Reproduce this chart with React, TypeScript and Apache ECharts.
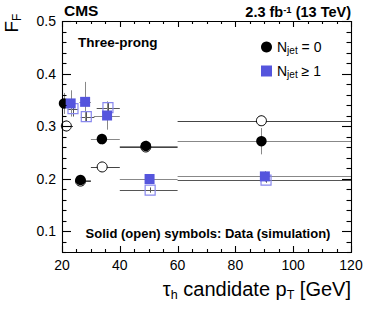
import React, { useEffect, useRef } from "react";
import * as echarts from "echarts";

// Axis ranges and ticks
const xRange = [20, 120];
const yRange = [0.06, 0.5];
const xMajorTicks = [20, 40, 60, 80, 100, 120];
const xMinorTicks = [25, 30, 35, 45, 50, 55, 65, 70, 75, 85, 90, 95, 105, 110, 115];
const yMajorTicks = [0.1, 0.2, 0.3, 0.4, 0.5];
const yMinorTicks = [0.06, 0.08, 0.12, 0.14, 0.16, 0.18, 0.22, 0.24, 0.26, 0.28, 0.32, 0.34, 0.36, 0.38, 0.42, 0.44, 0.46, 0.48];

// N_jet = 0, data (solid circles)
const d0X = [20.7, 26.4, 33.8, 49, 89];
const d0Y = [0.343, 0.197, 0.275, 0.262, 0.271];
const d0XLo = [20, 24.5, 30, 40, 60];
const d0XHi = [22.5, 30, 40, 60, 120];
const d0YErr = [0.02, 0.005, 0.01, 0.01, 0.025];

// N_jet = 0, simulation (open circles)
const s0X = [21.5, 26.4, 33.9, 49, 89];
const s0Y = [0.3, 0.195, 0.222, 0.26, 0.31];
const s0XLo = [20, 24.5, 30, 40, 60];
const s0XHi = [23.8, 30, 40, 60, 120];
const s0YErr = [0.01, 0.004, 0.007, 0.005, 0.01];

// N_jet >= 1, data (solid squares)
const d1X = [23, 28, 35.6, 50.3, 90.2];
const d1Y = [0.343, 0.346, 0.32, 0.199, 0.204];
const d1XLo = [21.4, 26, 31, 40, 60];
const d1XHi = [24.8, 30, 40, 60, 120];
const d1YErr = [0.025, 0.038, 0.027, 0.008, 0.01];

// N_jet >= 1, simulation (open squares)
const s1X = [23.8, 28.4, 35.9, 50.5, 90.6];
const s1Y = [0.333, 0.318, 0.335, 0.178, 0.197];
const s1XLo = [22, 26.5, 32, 40, 60];
const s1XHi = [25.5, 31.2, 40, 60, 120];
const s1YErr = [0.015, 0.01, 0.01, 0.005, 0.005];

const FONT = "Liberation Sans";
const BLUE = "#5555dd";
const LIGHTBLUE = "#8888ee";
const FRAME = "#000000";

function points(xs: number[], ys: number[]) {
  return xs.map((x, i) => [x, ys[i]]);
}
function errRows(xs: number[], ys: number[], lo: number[], hi: number[], ye: number[]) {
  return xs.map((x, i) => [x, ys[i], lo[i], hi[i], ys[i] - ye[i], ys[i] + ye[i]]);
}
const crisp = (v: number) => Math.round(v) + 0.5;

function errSeries(data: number[][], color: string, z: number) {
  return {
    type: "custom",
    z,
    silent: true,
    encode: { x: 0, y: 1 },
    data,
    renderItem: (params: any, api: any) => {
      const x = api.value(0);
      const y = api.value(1);
      const l = api.coord([api.value(2), y]);
      const r = api.coord([api.value(3), y]);
      const b = api.coord([x, api.value(4)]);
      const t = api.coord([x, api.value(5)]);
      const yc = crisp(l[1]);
      const xc = crisp(b[0]);
      return {
        type: "group",
        children: [
          { type: "line", shape: { x1: l[0], y1: yc, x2: r[0], y2: yc }, style: { stroke: color, lineWidth: 1 } },
          { type: "line", shape: { x1: xc, y1: b[1], x2: xc, y2: t[1] }, style: { stroke: color, lineWidth: 1 } },
        ],
      };
    },
  };
}

// Frame + inward ticks on all four sides; rows hold tick values, pixel ends come from api.coord
function frameRows() {
  const rows: number[][] = [];
  xMajorTicks.forEach((v) => rows.push([v, yRange[0], 0, 6]));
  xMinorTicks.forEach((v) => rows.push([v, yRange[0], 0, 3]));
  yMajorTicks.forEach((v) => rows.push([xRange[0], v, 1, 9]));
  yMinorTicks.forEach((v) => rows.push([xRange[0], v, 1, 4.5]));
  rows.push([xRange[0], yRange[0], 2, 0]);
  return rows;
}

function frameSeries() {
  return {
    type: "custom",
    z: 10,
    silent: true,
    encode: { x: 0, y: 1 },
    data: frameRows(),
    renderItem: (params: any, api: any) => {
      const kind = api.value(2);
      const len = api.value(3);
      if (kind === 2) {
        const p0 = api.coord([xRange[0], yRange[0]]);
        const p1 = api.coord([xRange[1], yRange[1]]);
        const x0 = crisp(p0[0]);
        const y1 = crisp(p1[1]);
        return {
          type: "rect",
          shape: { x: x0, y: y1, width: Math.round(p1[0] - p0[0]), height: Math.round(p0[1] - p1[1]) },
          style: { fill: "none", stroke: FRAME, lineWidth: 1.1 },
        };
      }
      if (kind === 0) {
        const v = api.value(0);
        const b = api.coord([v, yRange[0]]);
        const t = api.coord([v, yRange[1]]);
        const xc = crisp(b[0]);
        return {
          type: "group",
          children: [
            { type: "line", shape: { x1: xc, y1: b[1], x2: xc, y2: b[1] - len }, style: { stroke: FRAME, lineWidth: 1.1 } },
            { type: "line", shape: { x1: xc, y1: t[1], x2: xc, y2: t[1] + len }, style: { stroke: FRAME, lineWidth: 1.1 } },
          ],
        };
      }
      const v = api.value(1);
      const l = api.coord([xRange[0], v]);
      const r = api.coord([xRange[1], v]);
      const yc = crisp(l[1]);
      return {
        type: "group",
        children: [
          { type: "line", shape: { x1: l[0], y1: yc, x2: l[0] + len, y2: yc }, style: { stroke: FRAME, lineWidth: 1.1 } },
          { type: "line", shape: { x1: r[0], y1: yc, x2: r[0] - len, y2: yc }, style: { stroke: FRAME, lineWidth: 1.1 } },
        ],
      };
    },
  };
}

export default function App() {
  const ref = useRef<HTMLDivElement>(null);
  useEffect(() => {
    document.body.style.margin = "0";
    const chart = echarts.init(ref.current!, null, { renderer: "svg" });
    chart.setOption({
      animation: false,
      backgroundColor: "#fff",
      textStyle: { fontFamily: FONT },
      grid: { left: 62, right: 15, top: 21, bottom: 60, containLabel: false },
      xAxis: {
        type: "value",
        min: xRange[0],
        max: xRange[1],
        splitLine: { show: false },
        axisLine: { show: false },
        axisTick: { show: false },
        axisLabel: { show: true, customValues: xMajorTicks, fontSize: 14, color: "#000", fontFamily: FONT, margin: 6 },
      },
      yAxis: {
        type: "value",
        min: yRange[0],
        max: yRange[1],
        splitLine: { show: false },
        axisLine: { show: false },
        axisTick: { show: false },
        axisLabel: {
          show: true,
          customValues: yMajorTicks,
          fontSize: 14,
          color: "#000",
          fontFamily: FONT,
          margin: 6,
          formatter: (v: number) => v.toFixed(1),
        },
      },
      legend: {
        data: ["d0", "d1"],
        orient: "vertical",
        left: 256,
        top: 35,
        itemGap: 9,
        itemWidth: 11,
        itemHeight: 11,
        formatter: (name: string) =>
          name === "d0" ? "{n|N}{s|jet}{n| = 0}" : "{n|N}{s|jet}{n| \u2265 1}",
        textStyle: {
          fontFamily: FONT,
          color: "#000",
          rich: {
            n: { fontSize: 14, fontFamily: FONT, color: "#000", lineHeight: 16 },
            s: { fontSize: 10, fontFamily: FONT, color: "#000", lineHeight: 10, verticalAlign: "bottom" },
          },
        },
      },
      graphic: [
        {
          type: "text",
          x: 64,
          y: 18,
          style: { text: "CMS", fontSize: 15.5, fontWeight: "bold", fontFamily: FONT, fill: "#000", verticalAlign: "bottom" },
        },
        {
          type: "text",
          x: 351,
          y: 20,
          style: {
            text: "{b|2.3 fb}{u|-1}{b| (13 TeV)}",
            align: "right",
            verticalAlign: "bottom",
            rich: {
              b: { fontSize: 14.5, fontWeight: "bold", fontFamily: FONT, fill: "#000", lineHeight: 16 },
              u: { fontSize: 9.5, fontWeight: "bold", fontFamily: FONT, fill: "#000", lineHeight: 9, verticalAlign: "top" },
            },
          },
        },
        {
          type: "text",
          left: 78,
          top: 35,
          style: { text: "Three-prong", fontSize: 13.5, fontWeight: "bold", fontFamily: FONT, fill: "#000" },
        },
        {
          type: "text",
          x: 208,
          y: 233,
          style: {
            text: "Solid (open) symbols: Data (simulation)",
            fontSize: 13,
            fontWeight: "bold",
            fontFamily: FONT,
            fill: "#000",
            align: "center",
            verticalAlign: "middle",
          },
        },
        {
          type: "text",
          x: 351,
          y: 289,
          style: {
            text: "{a|\u03c4}{s|h}{a| candidate p}{s|T}{a| [GeV]}",
            align: "right",
            verticalAlign: "middle",
            rich: {
              a: { fontSize: 20, fontFamily: FONT, fill: "#000", lineHeight: 24 },
              s: { fontSize: 12.5, fontFamily: FONT, fill: "#000", lineHeight: 12, verticalAlign: "bottom" },
            },
          },
        },
        {
          type: "text",
          x: 11,
          y: 23,
          rotation: Math.PI / 2,
          style: {
            text: "{a|F}{s|F}",
            align: "center",
            verticalAlign: "middle",
            rich: {
              a: { fontSize: 19, fontFamily: FONT, fill: "#000", lineHeight: 24 },
              s: { fontSize: 12, fontFamily: FONT, fill: "#000", lineHeight: 12, verticalAlign: "bottom" },
            },
          },
        },
      ],
      series: [
        frameSeries(),
        errSeries(errRows(s0X, s0Y, s0XLo, s0XHi, s0YErr), "#444", 1),
        errSeries(errRows(d0X, d0Y, d0XLo, d0XHi, d0YErr), "#888", 1),
        errSeries(errRows(s1X, s1Y, s1XLo, s1XHi, s1YErr), "#555", 1),
        errSeries(errRows(d1X, d1Y, d1XLo, d1XHi, d1YErr), "#888", 1),
        {
          name: "s0",
          type: "scatter",
          z: 2,
          symbol: "circle",
          symbolSize: 10,
          itemStyle: { color: "#fff", borderColor: "#000", borderWidth: 1, opacity: 1 },
          data: points(s0X, s0Y),
        },
        {
          name: "d0",
          type: "scatter",
          z: 3,
          symbol: "circle",
          symbolSize: 10.5,
          itemStyle: { color: "#000", opacity: 1 },
          data: points(d0X, d0Y),
        },
        {
          name: "s1",
          type: "scatter",
          z: 4,
          symbol: "rect",
          symbolSize: 10,
          itemStyle: { color: "rgba(255,255,255,0)", borderColor: LIGHTBLUE, borderWidth: 1.2, opacity: 1 },
          data: points(s1X, s1Y),
        },
        {
          name: "d1",
          type: "scatter",
          z: 5,
          symbol: "rect",
          symbolSize: 10,
          itemStyle: { color: BLUE, opacity: 1 },
          data: points(d1X, d1Y),
        },
      ],
    });
    return () => chart.dispose();
  }, []);
  return <div ref={ref} style={{ width: 366, height: 312 }} />;
}
